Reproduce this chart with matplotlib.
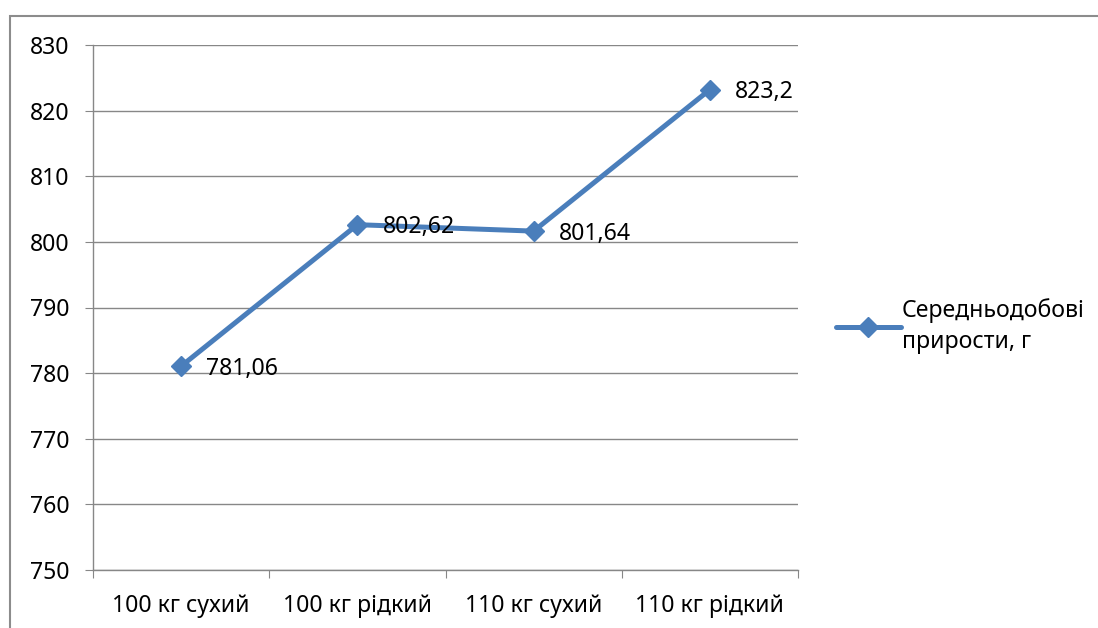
import matplotlib.pyplot as plt
from matplotlib.patches import Rectangle

plt.rcParams['font.family'] = ['Noto Sans', 'DejaVu Sans']

# дані: середньодобові прирости за групами
groups = ["100 кг сухий", "100 кг рідкий", "110 кг сухий", "110 кг рідкий"]
gains = [781.06, 802.62, 801.64, 823.2]
gain_labels = ["781,06", "802,62", "801,64", "823,2"]
y_ticks = [750, 760, 770, 780, 790, 800, 810, 820, 830]

grid_col = "#878787"
line_col = "#4A7EBB"
fs = 16.6

fig = plt.figure(figsize=(10.98, 6.28), dpi=100)
ax = fig.add_axes([93 / 1098, 1 - 570 / 628, 705 / 1098, 525 / 628])

# рамка діаграми
fig.patches.append(Rectangle((10 / 1098, -0.1), 1.2, 1 - 16 / 628 + 0.1,
                             transform=fig.transFigure, fill=False,
                             edgecolor="#8c8c8c", lw=1.5))

x = [i + 0.5 for i in range(len(groups))]
ax.plot(x, gains, color=line_col, lw=3.6, marker="D", ms=10,
        label="Середньодобові\nприрости, г", solid_capstyle="round")

for xi, yi, t in zip(x, gains, gain_labels):
    ax.annotate(t, (xi, yi), xytext=(18, -2), textcoords="offset points",
                ha="left", va="center", fontsize=fs)

ax.set_xlim(0, len(groups))
ax.set_ylim(750, 830)
ax.set_yticks(y_ticks)
ax.set_yticklabels([str(v) for v in y_ticks], fontsize=fs)
ax.set_xticks(range(len(groups) + 1))
ax.set_xticklabels([])
ax.set_xticks(x, minor=True)
ax.set_xticklabels(groups, minor=True, fontsize=fs)
ax.tick_params(axis="x", which="major", length=6, color=grid_col, direction="out")
ax.tick_params(axis="x", which="minor", length=0, pad=17)
ax.tick_params(axis="y", length=6, color=grid_col, pad=11)
ax.yaxis.grid(True, color=grid_col, lw=1)
ax.set_axisbelow(True)
for s in ["top", "right"]:
    ax.spines[s].set_visible(False)
for s in ["left", "bottom"]:
    ax.spines[s].set_color(grid_col)
    ax.spines[s].set_linewidth(1)

ax.legend(loc="center left", bbox_to_anchor=(836 / 1098, 1 - 326 / 628),
          bbox_transform=fig.transFigure, frameon=False, fontsize=fs,
          handlelength=2.8, handletextpad=0.05, borderaxespad=0,
          borderpad=0)
plt.setp(ax.get_legend().get_texts(), linespacing=1.4)

fig.savefig("out.png", dpi=100)
